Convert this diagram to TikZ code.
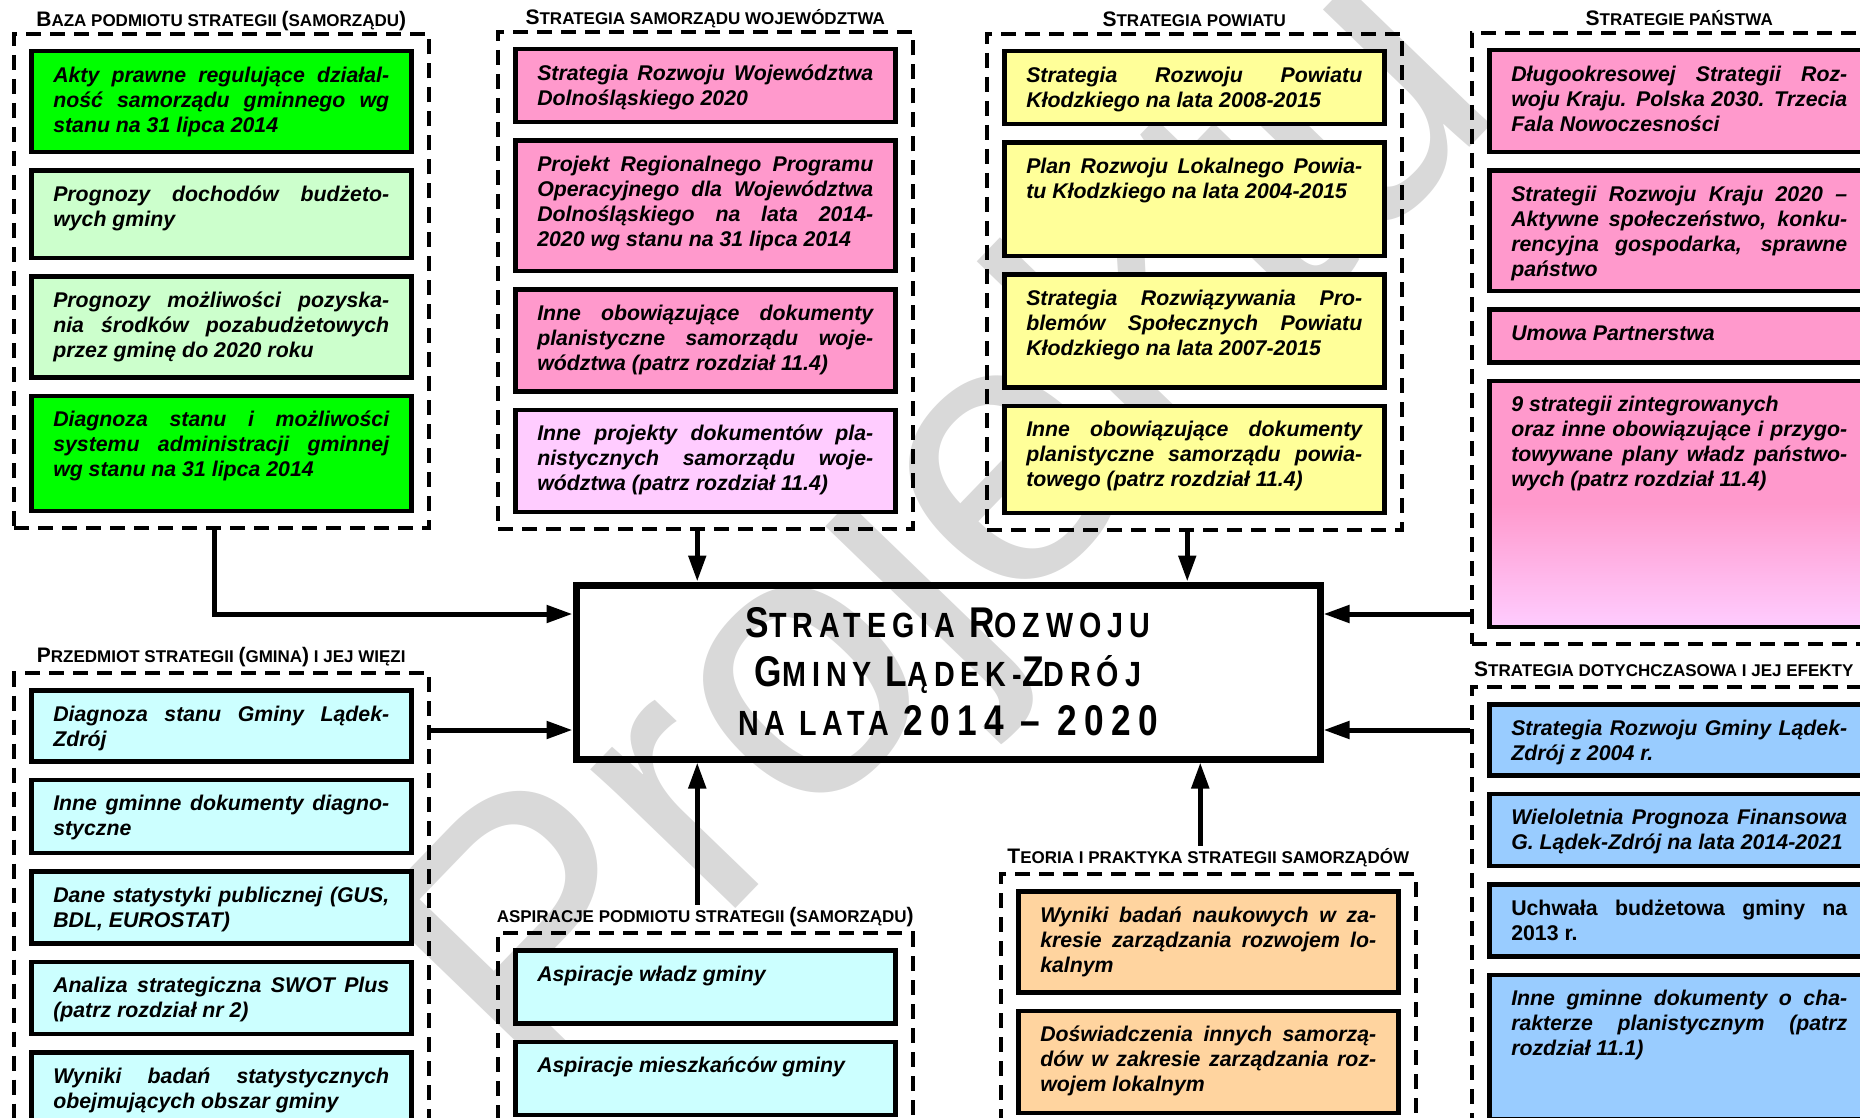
\documentclass[tikz,border=0pt]{standalone}
\usepackage{fontspec}
\setmainfont{Liberation Sans}
\newfontfamily\tytul[FakeStretch=0.82,LetterSpace=17]{Liberation Sans}
\usetikzlibrary{positioning,fit,arrows.meta}

\definecolor{zielony}{HTML}{00FF00}
\definecolor{jasnozielony}{HTML}{CCFFCC}
\definecolor{rozowy}{HTML}{FF99CC}
\definecolor{jasnorozowy}{HTML}{FFCCFF}
\definecolor{zolty}{HTML}{FFFF99}
\definecolor{blekitny}{HTML}{CCFFFF}
\definecolor{morelowy}{HTML}{FFD49F}
\definecolor{niebieski}{HTML}{99CCFF}

\newcommand{\ftekst}{\fontsize{21.3}{25}\selectfont\bfseries\itshape}
\newcommand{\fnaglowek}{\fontsize{17}{20}\selectfont\bfseries}
\newcommand{\ftytul}{\tytul\bfseries\fontsize{35}{49}\selectfont}
\newcommand{\hK}[1]{{\fontsize{21}{20}\selectfont #1}}
\newcommand{\tK}[1]{{\fontsize{43}{49}\selectfont #1}}

\tolerance=10000
\hyphenpenalty=10000
\exhyphenpenalty=10000

\tikzset{
  doc/.style={draw, line width=4.5pt, text width=336pt, inner xsep=22pt, inner ysep=14pt,
    text height=17pt, align=justify, font=\ftekst},
  grupa/.style={draw, dash pattern=on 15pt off 9pt, line width=4pt, inner sep=15pt},
  naglowek/.style={font=\fnaglowek, inner sep=2pt, anchor=base},
  glowny/.style={draw, line width=7pt, minimum width=744pt, minimum height=174pt,
    align=center, font=\ftytul},
  strzalka/.style={line width=5pt, -{Triangle[length=26pt,width=17pt]}},
  znak/.style={rotate=46, text=black!15, font=\fontsize{380}{380}\selectfont}
}

\begin{document}
\begin{tikzpicture}[x=1pt, y=-1pt]

\useasboundingbox (0,0) rectangle (1860,1118);
\clip (0,0) rectangle (1860,1118);

% Znak wodny
\node[znak] (projekt) at (955,540) {Projektu};

% Baza podmiotu
\node[doc, fill=zielony, anchor=north west, text depth=56pt] (baza1) at (29,49) {Akty prawne regulujące działal-\linebreak ność samorządu gminnego wg\linebreak stanu na 31 lipca 2014};
\node[doc, fill=jasnozielony, text depth=42pt, below=14pt of baza1] (baza2) {Prognozy dochodów budżeto-\linebreak wych gminy};
\node[doc, fill=jasnozielony, text depth=56pt, below=14pt of baza2] (baza3) {Prognozy możliwości pozyska-\linebreak nia środków pozabudżetowych\linebreak przez gminę do 2020 roku};
\node[doc, fill=zielony, text depth=70pt, below=14pt of baza3] (baza4) {Diagnoza stanu i możliwości\linebreak systemu administracji gminnej\linebreak wg stanu na 31 lipca 2014};
\node[grupa, fit=(baza1)(baza4)] (baza) {};
\node[naglowek] (bazaT) at ([yshift=5pt]baza.north) {\hK{B}AZA PODMIOTU STRATEGII \hK{(}SAMORZĄDU\hK{)}};

% Wojewodztwo
\node[doc, fill=rozowy, anchor=north west, text depth=28pt] (woj1) at (513,47) {Strategia Rozwoju Województwa\linebreak Dolnośląskiego 2020};
\node[doc, fill=rozowy, text depth=85pt, below=14pt of woj1] (woj2) {Projekt Regionalnego Programu\linebreak Operacyjnego dla Województwa\linebreak Dolnośląskiego na lata 2014-\linebreak 2020 wg stanu na 31 lipca 2014};
\node[doc, fill=rozowy, text depth=57pt, below=14pt of woj2] (woj3) {Inne obowiązujące dokumenty\linebreak planistyczne samorządu woje-\linebreak wództwa (patrz rozdział 11.4)};
\node[doc, fill=jasnorozowy, text depth=57pt, below=14pt of woj3] (woj4) {Inne projekty dokumentów pla-\linebreak nistycznych samorządu woje-\linebreak wództwa (patrz rozdział 11.4)};
\node[grupa, fit=(woj1)(woj4)] (woj) {};
\node[naglowek] (wojT) at ([yshift=5pt]woj.north) {\hK{S}TRATEGIA SAMORZĄDU WOJEWÓDZTWA};

% Powiat
\node[doc, fill=zolty, anchor=north west, text depth=28pt] (pow1) at (1002,49) {Strategia Rozwoju Powiatu\linebreak Kłodzkiego na lata 2008-2015};
\node[doc, fill=zolty, text depth=68pt, below=14pt of pow1] (pow2) {Plan Rozwoju Lokalnego Powia-\linebreak tu Kłodzkiego na lata 2004-2015};
\node[doc, fill=zolty, text depth=68pt, below=14pt of pow2] (pow3) {Strategia Rozwiązywania Pro-\linebreak blemów Społecznych Powiatu\linebreak Kłodzkiego na lata 2007-2015};
\node[doc, fill=zolty, text depth=62pt, below=14pt of pow3] (pow4) {Inne obowiązujące dokumenty\linebreak planistyczne samorządu powia-\linebreak towego (patrz rozdział 11.4)};
\node[grupa, fit=(pow1)(pow4)] (pow) {};
\node[naglowek] (powT) at ([yshift=5pt]pow.north) {\hK{S}TRATEGIA POWIATU};

% Panstwo
\node[doc, fill=rozowy, anchor=north west, text depth=57pt] (pan1) at (1487,48) {Długookresowej Strategii Roz-\linebreak woju Kraju. Polska 2030. Trzecia\linebreak Fala Nowoczesności};
\node[doc, fill=rozowy, text depth=75pt, below=14pt of pan1] (pan2) {Strategii Rozwoju Kraju 2020 –\linebreak Aktywne społeczeństwo, konku-\linebreak rencyjna gospodarka, sprawne\linebreak państwo};
\node[doc, fill=rozowy, text depth=8pt, below=14pt of pan2] (pan3) {Umowa Partnerstwa};
\node[doc, top color=rozowy, bottom color=jasnorozowy, middle color=rozowy, text depth=201pt, below=14pt of pan3] (pan4) {9 strategii zintegrowanych\newline oraz inne obowiązujące i przygo-\linebreak towywane plany władz państwo-\linebreak wych (patrz rozdział 11.4)};
\node[grupa, fit=(pan1)(pan4)] (pan) {};
\node[naglowek] (panT) at ([yshift=5pt]pan.north) {\hK{S}TRATEGIE PAŃSTWA};

% Gmina
\node[doc, fill=blekitny, anchor=north west, text depth=26pt] (gm1) at (29,688) {Diagnoza stanu Gminy Lądek-\linebreak Zdrój};
\node[doc, fill=blekitny, text depth=28pt, below=14pt of gm1] (gm2) {Inne gminne dokumenty diagno-\linebreak styczne};
\node[doc, fill=blekitny, text depth=27pt, below=14pt of gm2] (gm3) {Dane statystyki publicznej (GUS,\linebreak BDL, EUROSTAT)};
\node[doc, fill=blekitny, text depth=27pt, below=14pt of gm3] (gm4) {Analiza strategiczna SWOT Plus\linebreak (patrz rozdział nr 2)};
\node[doc, fill=blekitny, text depth=27pt, below=14pt of gm4] (gm5) {Wyniki badań statystycznych\linebreak obejmujących obszar gminy};
\node[grupa, fit=(gm1)(gm5)] (gmina) {};
\node[naglowek] (gminaT) at ([yshift=9pt]gmina.north) {\hK{P}RZEDMIOT STRATEGII \hK{(}GMINA\hK{)} I JEJ WIĘZI};

% Aspiracje
\node[doc, fill=blekitny, anchor=north west, text depth=28pt] (asp1) at (513,948) {Aspiracje władz gminy};
\node[doc, fill=blekitny, text depth=28pt, below=14pt of asp1] (asp2) {Aspiracje mieszkańców gminy};
\node[grupa, fit=(asp1)(asp2)] (asp) {};
\node[naglowek] (aspT) at ([yshift=9pt]asp.north) {ASPIRACJE PODMIOTU STRATEGII \hK{(}SAMORZĄDU\hK{)}};

% Teoria
\node[doc, fill=morelowy, anchor=north west, text depth=56pt] (teo1) at (1016,889) {Wyniki badań naukowych w za-\linebreak kresie zarządzania rozwojem lo-\linebreak kalnym};
\node[doc, fill=morelowy, text depth=57pt, below=14pt of teo1] (teo2) {Doświadczenia innych samorzą-\linebreak dów w zakresie zarządzania roz-\linebreak wojem lokalnym};
\node[grupa, fit=(teo1)(teo2)] (teoria) {};
\node[naglowek] (teoriaT) at ([yshift=9pt]teoria.north) {\hK{T}EORIA I PRAKTYKA STRATEGII SAMORZĄDÓW};

% Efekty
\node[doc, fill=niebieski, anchor=north west, text depth=26pt] (ef1) at (1487,702) {Strategia Rozwoju Gminy Lądek-\linebreak Zdrój z 2004 r.};
\node[doc, fill=niebieski, text depth=27pt, below=14pt of ef1] (ef2) {Wieloletnia Prognoza Finansowa\linebreak G. Lądek-Zdrój na lata 2014-2021};
\node[doc, fill=niebieski, text depth=27pt, below=14pt of ef2] (ef3) {\upshape Uchwała budżetowa gminy na\linebreak 2013 r.};
\node[doc, fill=niebieski, text depth=99pt, below=14pt of ef3] (ef4) {Inne gminne dokumenty o cha-\linebreak rakterze planistycznym (patrz\linebreak rozdział 11.1)};
\node[grupa, fit=(ef1)(ef4)] (efekty) {};
\node[naglowek, anchor=base west] (efektyT) at ([xshift=2pt,yshift=9pt]efekty.north west) {\hK{S}TRATEGIA DOTYCHCZASOWA I JEJ EFEKTY};

% Strategia
\node[glowny] (strategia) at (948,672) {\tK{S}TRATEGIA \tK{R}OZWOJU\\ \tK{G}MINY \tK{L}ĄDEK-\tK{Z}DRÓJ\\ NA LATA \tK{2014 – 2020}};

\coordinate (wejL1) at ([yshift=58pt]strategia.west);
\coordinate (wejL2) at ([yshift=-58pt]strategia.west);
\coordinate (wejP1) at ([yshift=58pt]strategia.east);
\coordinate (wejP2) at ([yshift=-58pt]strategia.east);
\coordinate (wyjB) at ([xshift=-7pt]baza.south);
\coordinate (wyjW) at ([xshift=-8pt]woj.south);
\coordinate (wyjP) at ([xshift=-7pt]pow.south);
\coordinate (wyjA) at ([xshift=-8pt]aspT.north);
\coordinate (wyjT) at ([xshift=-8pt]teoriaT.north);

% Strzalki
\draw[strzalka] (wyjB) |- (wejL1);
\draw[strzalka] (gmina.east |- wejL2) -- (wejL2);
\draw[strzalka] (pan.west |- wejP1) -- (wejP1);
\draw[strzalka] (efekty.west |- wejP2) -- (wejP2);
\draw[strzalka] (wyjW) -- (wyjW |- strategia.north);
\draw[strzalka] (wyjP) -- (wyjP |- strategia.north);
\draw[strzalka] (wyjA) -- (wyjA |- strategia.south);
\draw[strzalka] (wyjT) -- (wyjT |- strategia.south);

\end{tikzpicture}
\end{document}
